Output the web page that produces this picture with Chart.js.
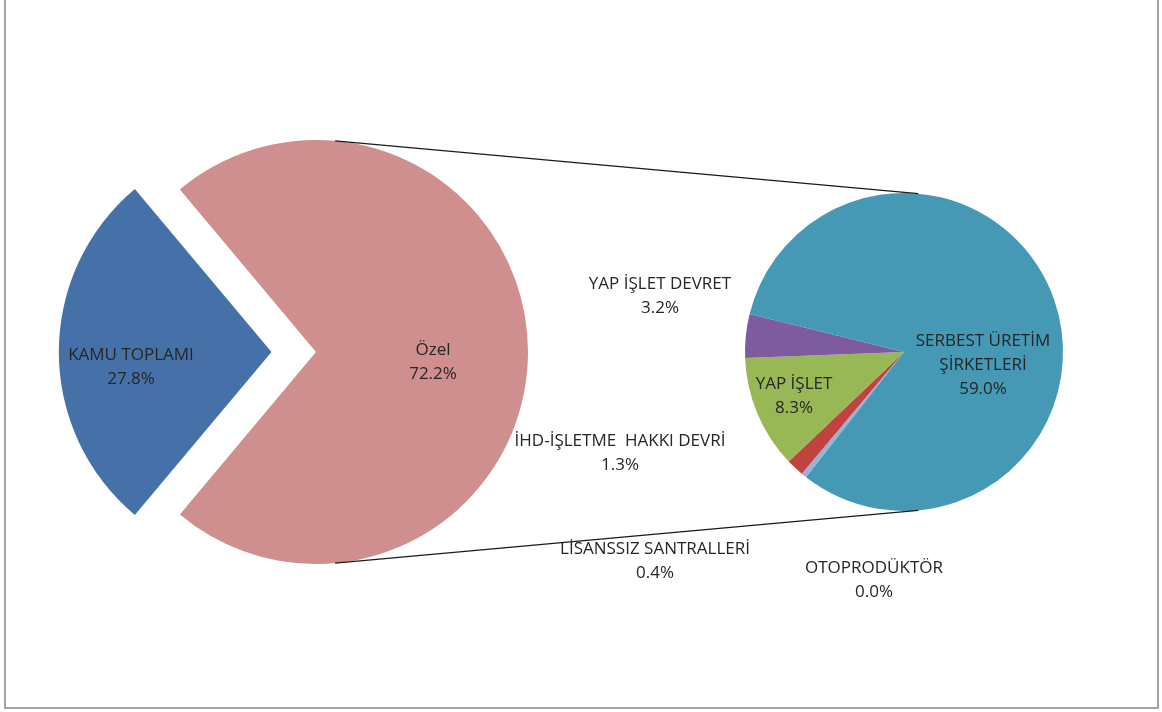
<!DOCTYPE html>
<html>
<head>
<meta charset="utf-8">
<script src="https://cdn.jsdelivr.net/npm/chart.js@4.4.1/dist/chart.umd.min.js"></script>
<style>
  html, body { margin: 0; padding: 0; background: #fff; }
  #wrap { position: relative; width: 1162px; height: 712px; overflow: hidden; }
  #frame {
    position: absolute; left: 4px; top: -6px; width: 1155px; height: 715px;
    box-sizing: border-box; border: 2px solid #a4a4a4;
  }
  canvas { position: absolute; left: 0; top: 0; }
</style>
</head>
<body>
<div id="wrap">
  <div id="frame"></div>
  <canvas id="mainPie" width="1162" height="712"></canvas>
  <canvas id="subPie" width="1162" height="712"></canvas>
</div>
<script>
// kurulu güç dağılımı (%), toplam 100
const mainLabels = ['KAMU TOPLAMI', 'Özel'];
const mainValues = [27.8, 72.2];
const mainColors = ['#4571a8', '#cf8f8e'];

// özel sektörün alt kırılımı (toplam içindeki %)
const subLabels = [
  'LİSANSSIZ SANTRALLERİ',
  'İHD-İŞLETME  HAKKI DEVRİ',
  'YAP İŞLET',
  'YAP İŞLET DEVRET',
  ['SERBEST ÜRETİM', 'ŞİRKETLERİ'],
  'OTOPRODÜKTÖR'
];
const subValues = [0.4, 1.3, 8.3, 3.2, 59.0, 0.0];
const subColors = ['#9cb1d8', '#c1433f', '#98b755', '#7e5b9f', '#4599b4', '#e28a3f'];

const LINE_H = 24;
const FONT = '17px "Open Sans", sans-serif';

// etiketleri pasta merkezine göre yerleştir
const sliceLabels = {
  id: 'sliceLabels',
  afterDatasetsDraw(chart, args, opts) {
    const ctx = chart.ctx;
    const arc = chart.getDatasetMeta(0).data[0];
    const ds = chart.data.datasets[0];
    ctx.save();
    ctx.font = FONT;
    ctx.fillStyle = '#262626';
    ctx.textAlign = 'center';
    ctx.textBaseline = 'middle';
    chart.data.labels.forEach((name, i) => {
      const lines = [].concat(name, ds.data[i].toFixed(1) + '%');
      const p = opts.places[i];
      const top = arc.y + p[1] - (lines.length - 1) * LINE_H / 2;
      lines.forEach((t, k) => ctx.fillText(t, arc.x + p[0], top + k * LINE_H));
    });
    ctx.restore();
  }
};

let mainChart = null;

// iki pasta arasındaki dış teğet çizgileri
const connectors = {
  id: 'connectors',
  afterDatasetsDraw(chart) {
    if (!mainChart) return;
    const a = mainChart.getDatasetMeta(0).data[1];
    const b = chart.getDatasetMeta(0).data[0];
    const d = b.x - a.x;
    const s = (a.outerRadius - b.outerRadius) / d;
    const c = Math.sqrt(1 - s * s);
    const ctx = chart.ctx;
    ctx.save();
    ctx.strokeStyle = '#1a1a1a';
    ctx.lineWidth = 1.2;
    [-1, 1].forEach(dir => {
      ctx.beginPath();
      ctx.moveTo(a.x + a.outerRadius * s, a.y + dir * a.outerRadius * c);
      ctx.lineTo(b.x + b.outerRadius * s, b.y + dir * b.outerRadius * c);
      ctx.stroke();
    });
    ctx.restore();
  }
};

function pieOptions(radius, rotation, padding, places) {
  return {
    responsive: false,
    animation: false,
    radius: radius,
    rotation: rotation,
    layout: { padding: padding },
    plugins: {
      legend: { display: false },
      tooltip: { enabled: false },
      sliceLabels: { places: places }
    }
  };
}

mainChart = new Chart(document.getElementById('mainPie'), {
  type: 'pie',
  data: {
    labels: mainLabels,
    datasets: [{
      data: mainValues,
      backgroundColor: mainColors,
      borderWidth: 0,
      offset: [178, 0]
    }]
  },
  options: pieOptions(212, 270 - mainValues[0] * 1.8,
    { left: 0, right: 530, top: 0, bottom: 8 },
    [[-185, 15], [117, 10]]),
  plugins: [sliceLabels]
});

new Chart(document.getElementById('subPie'), {
  type: 'pie',
  data: {
    labels: subLabels,
    datasets: [{
      data: subValues,
      backgroundColor: subColors,
      borderWidth: 0
    }]
  },
  options: pieOptions(159, 218,
    { left: 646, right: 0, top: 0, bottom: 8 },
    [[-249, 209], [-284, 101], [-110, 44], [-244, -56], [79, 13], [-30, 228]]),
  plugins: [sliceLabels, connectors]
});
</script>
</body>
</html>
